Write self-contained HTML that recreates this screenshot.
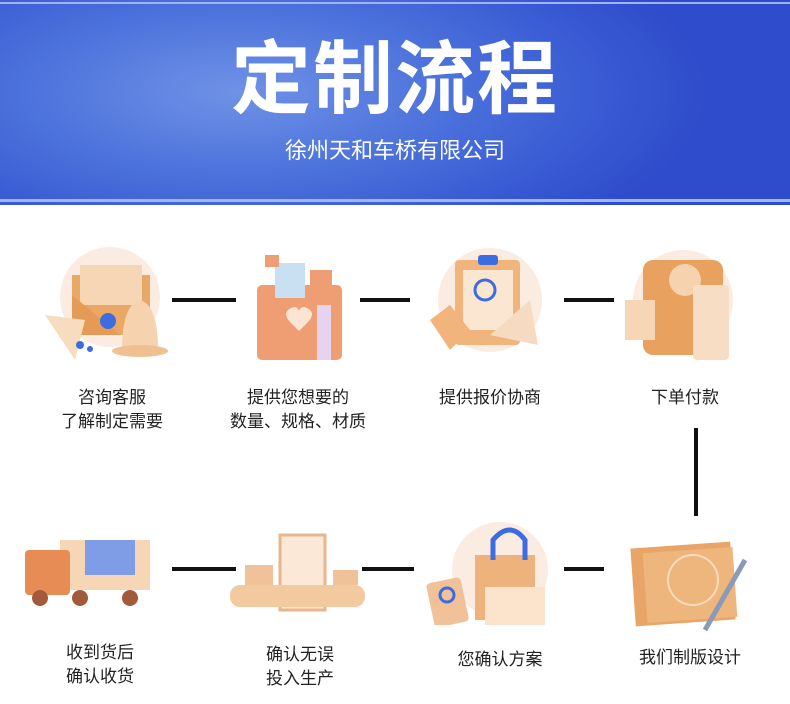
<!DOCTYPE html>
<html><head><meta charset="utf-8"><style>
body{margin:0;width:790px;height:704px;background:#fff;position:relative;overflow:hidden;font-family:"Liberation Sans","Noto Sans CJK SC",sans-serif}
.hdr{position:absolute;left:0;top:0;width:790px;height:205px;background:radial-gradient(ellipse 60% 90% at 30% 45%,#6f92e6 0%,#4c72dc 45%,#3758d2 80%,#2e4ccb 100%)}
.l1{position:absolute;left:0;top:2px;width:790px;height:2px;background:#9db4f0}
.l2{position:absolute;left:0;top:199px;width:790px;height:3px;background:#9fb6f2}
.t{position:absolute;left:0;width:790px;text-align:center;color:#fff}
.ln{position:absolute;background:#111}
.lb{position:absolute;width:200px;text-align:center;font-size:17px;line-height:24px;color:#222}
.ic{position:absolute}
</style></head><body>
<div class="hdr"></div><div class="l1"></div><div class="l2"></div>
<div class="t" style="top:30px;font-size:80px;font-weight:bold;line-height:100px;letter-spacing:2px">定制流程</div>
<div class="t" style="top:136px;font-size:22px;line-height:30px">徐州天和车桥有限公司</div>

<div class="ln" style="left:172px;top:298px;width:64px;height:4px"></div>
<div class="ln" style="left:360px;top:298px;width:50px;height:4px"></div>
<div class="ln" style="left:564px;top:298px;width:50px;height:4px"></div>
<div class="ln" style="left:694px;top:428px;width:4px;height:88px"></div>
<div class="ln" style="left:172px;top:567px;width:64px;height:4px"></div>
<div class="ln" style="left:362px;top:567px;width:52px;height:4px"></div>
<div class="ln" style="left:564px;top:567px;width:40px;height:4px"></div>

<!-- icons row1 -->
<svg class="ic" style="left:40px;top:245px" width="135" height="120">
<circle cx="70" cy="52" r="50" fill="#fbece2"/>
<rect x="32" y="30" width="78" height="60" fill="#eaa867"/>
<rect x="40" y="20" width="62" height="40" fill="#f6d6b4"/>
<polygon points="32,50 80,90 32,90" fill="#e59a55"/>
<polygon points="5,70 45,75 35,115" fill="#f7dcc0"/>
<circle cx="68" cy="76" r="8" fill="#3d6be0"/>
<path d="M82,105 Q82,60 100,55 Q118,60 118,105 Z" fill="#f6d2ae"/>
<ellipse cx="100" cy="106" rx="28" ry="6" fill="#f0c190"/>
<circle cx="40" cy="100" r="4" fill="#3d6be0"/><circle cx="50" cy="104" r="3" fill="#3d6be0"/>
</svg>
<svg class="ic" style="left:245px;top:245px" width="110" height="120">
<rect x="12" y="40" width="85" height="75" rx="5" fill="#ef9e73"/>
<rect x="30" y="18" width="30" height="35" fill="#c8e0f2"/>
<rect x="20" y="10" width="14" height="12" fill="#ef9e73"/>
<rect x="65" y="25" width="22" height="18" fill="#ef9e73"/>
<path d="M46,78 q-10,-10 0,-15 q6,-3 8,3 q2,-6 8,-3 q10,5 0,15 l-8,8 z" fill="#fbe4d4"/>
<rect x="72" y="60" width="14" height="55" fill="#e6d3f0"/>
</svg>
<svg class="ic" style="left:420px;top:245px" width="140" height="120">
<circle cx="70" cy="55" r="52" fill="#fbece2"/>
<rect x="35" y="15" width="65" height="85" rx="4" fill="#f1b47c"/>
<rect x="43" y="25" width="50" height="60" fill="#fbe6d2"/>
<circle cx="65" cy="45" r="10" fill="none" stroke="#3d6be0" stroke-width="3"/>
<rect x="58" y="10" width="20" height="10" rx="3" fill="#3d6be0"/>
<polygon points="10,75 30,60 50,85 30,105" fill="#f1b47c"/>
<path d="M70,90 L110,55 L118,100 Z" fill="#f6dbc2"/>
</svg>
<svg class="ic" style="left:615px;top:245px" width="135" height="120">
<circle cx="68" cy="55" r="50" fill="#fbece2"/>
<rect x="28" y="15" width="80" height="95" rx="10" fill="#e9a160"/>
<circle cx="70" cy="35" r="16" fill="#f6d2ae"/>
<rect x="10" y="55" width="30" height="40" fill="#f6d6b4"/>
<rect x="78" y="40" width="36" height="75" rx="4" fill="#f7ddc4"/>
</svg>

<div class="lb" style="left:12px;top:386px">咨询客服<br>了解制定需要</div>
<div class="lb" style="left:198px;top:386px">提供您想要的<br>数量、规格、材质</div>
<div class="lb" style="left:390px;top:386px">提供报价协商</div>
<div class="lb" style="left:585px;top:386px">下单付款</div>

<!-- icons row2 -->
<svg class="ic" style="left:20px;top:520px" width="145" height="90">
<rect x="40" y="20" width="90" height="50" fill="#f6d6b4"/>
<rect x="5" y="30" width="45" height="45" rx="4" fill="#e88c55"/>
<rect x="65" y="20" width="50" height="35" fill="#7f9de6"/>
<circle cx="20" cy="78" r="8" fill="#a35a3a"/><circle cx="60" cy="78" r="8" fill="#a35a3a"/><circle cx="110" cy="78" r="8" fill="#a35a3a"/>
</svg>
<svg class="ic" style="left:225px;top:530px" width="145" height="85">
<rect x="55" y="5" width="45" height="75" fill="#fbe8d6" stroke="#eab58a" stroke-width="3"/>
<rect x="5" y="55" width="135" height="22" rx="10" fill="#f3c9a0"/>
<rect x="20" y="35" width="28" height="20" fill="#f1c299"/><rect x="108" y="40" width="25" height="15" fill="#f1c299"/>
</svg>
<svg class="ic" style="left:425px;top:515px" width="130" height="110">
<circle cx="75" cy="55" r="48" fill="#fbece2"/>
<rect x="50" y="40" width="60" height="65" fill="#eeb27c"/>
<path d="M68,45 V25 Q85,5 100,25 V45" fill="none" stroke="#3d6be0" stroke-width="5"/>
<rect x="5" y="65" width="35" height="45" rx="4" fill="#f1c299" transform="rotate(-12 22 87)"/>
<rect x="60" y="72" width="60" height="38" fill="#fbe3cc"/>
<circle cx="22" cy="80" r="7" fill="none" stroke="#3d6be0" stroke-width="3"/>
</svg>
<svg class="ic" style="left:625px;top:535px" width="125" height="100">
<rect x="8" y="10" width="100" height="78" fill="#e8a567" transform="rotate(-4 58 49)"/>
<rect x="20" y="15" width="90" height="70" fill="#eeb57c" transform="rotate(-4 65 50)"/>
<circle cx="68" cy="45" r="25" fill="none" stroke="#f9dcc0" stroke-width="2"/>
<line x1="120" y1="25" x2="80" y2="95" stroke="#8a9ab8" stroke-width="5"/>
</svg>

<div class="lb" style="left:0;top:641px">收到货后<br>确认收货</div>
<div class="lb" style="left:200px;top:643px">确认无误<br>投入生产</div>
<div class="lb" style="left:400px;top:648px">您确认方案</div>
<div class="lb" style="left:590px;top:646px">我们制版设计</div>
</body></html>
